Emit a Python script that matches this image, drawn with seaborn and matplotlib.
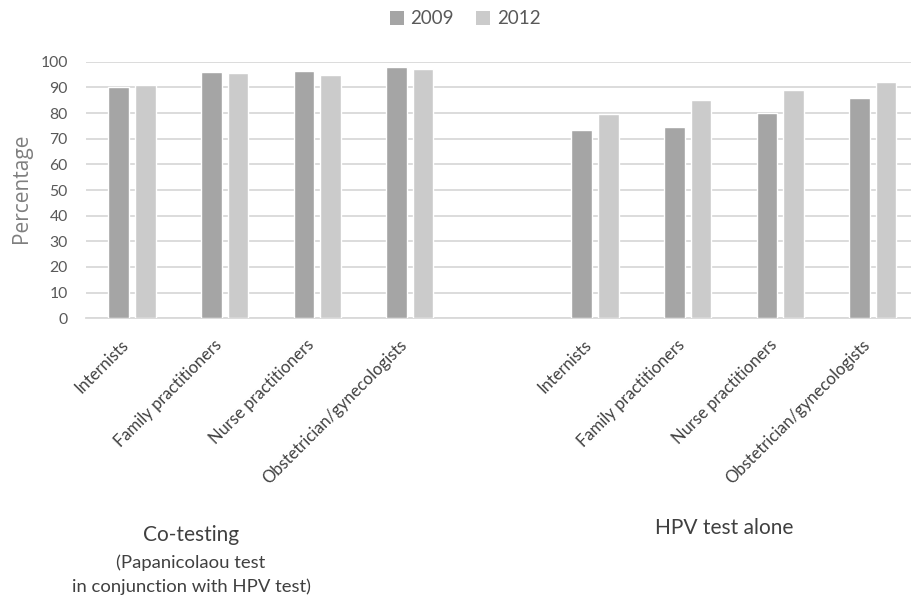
import matplotlib
matplotlib.use("Agg")
import matplotlib.pyplot as plt
from matplotlib.patches import Patch
import seaborn as sns
import pandas as pd

# Provider groups and survey years
providers = ["Internists", "Family practitioners", "Nurse practitioners",
             "Obstetrician/gynecologists"]
years = ["2009", "2012"]

# Percentage recommending co-testing (Pap + HPV)
cotest_2009 = [90, 96, 96.5, 98]
cotest_2012 = [91, 95.5, 95, 97]

# Percentage recommending HPV test alone
hpv_2009 = [73.5, 74.5, 80, 86]
hpv_2012 = [79.5, 85, 89, 92]

y_ticks = list(range(0, 101, 10))

# Build long-form table; one empty slot separates the two test groups
rows = []
for i, p in enumerate(providers):
    rows.append(("co_" + str(i), "2009", cotest_2009[i]))
    rows.append(("co_" + str(i), "2012", cotest_2012[i]))
    rows.append(("hpv_" + str(i), "2009", hpv_2009[i]))
    rows.append(("hpv_" + str(i), "2012", hpv_2012[i]))
df = pd.DataFrame(rows, columns=["slot", "year", "pct"])

order = ["co_%d" % i for i in range(4)] + ["gap"] + ["hpv_%d" % i for i in range(4)]
tick_labels = providers + [""] + providers

sns.set_theme(style="white")
plt.rcParams["font.family"] = ["Lato", "DejaVu Sans"]

colors = {"2009": "#a5a5a5", "2012": "#cbcbcb"}

fig = plt.figure(figsize=(9.11, 6.01), dpi=100)
ax_left, ax_width = 0.0941, 0.9148
ax = fig.add_axes([ax_left, 0.4704, ax_width, 0.4269])

sns.barplot(data=df, x="slot", y="pct", hue="year", order=order,
            hue_order=years, palette=colors, width=0.572, gap=0.223,
            saturation=1, legend=False, ax=ax, zorder=3)

ax.set_xlim(-0.5, 8.5)
ax.set_ylim(0, 100)
ax.set_yticks(y_ticks)
ax.set_yticklabels([str(t) for t in y_ticks], fontsize=11.3, color="#595959")
ax.tick_params(axis="y", length=0, pad=13)

ax.set_xticks(range(len(order)))
ax.set_xticklabels(tick_labels, rotation=45, ha="right", fontsize=12,
                   color="#404040")
ax.tick_params(axis="x", length=0, pad=13)

ax.grid(axis="y", color="#d9d9d9", linewidth=1.3, zorder=0)
ax.set_axisbelow(True)
for side in ["top", "right", "left"]:
    ax.spines[side].set_visible(False)
ax.spines["bottom"].set_color("#d9d9d9")
ax.spines["bottom"].set_linewidth(1.3)

ax.set_xlabel("")
ax.set_ylabel("Percentage", fontsize=15, color="#7f7f7f",
              family=["Open Sans", "DejaVu Sans"])
ax.yaxis.set_label_coords(-(85.7 - 32) / 833.4, 0.505)

# Legend centred above the plot
handles = [Patch(facecolor=colors[y], edgecolor="none", label=y) for y in years]
fig.legend(handles=handles, loc="center", bbox_to_anchor=(465 / 911, 1 - 19 / 601),
           ncol=2, frameon=False, fontsize=13.5, labelcolor="#595959",
           handlelength=0.75, handleheight=0.75, handletextpad=0.35,
           columnspacing=1.2)

# Group captions below the category labels
fig.text(191 / 911, 1 - 535 / 601, "Co-testing", ha="center", va="center",
         fontsize=15, color="#404040")
fig.text(191 / 911, 1 - 563 / 601, "(Papanicolaou test", ha="center",
         va="center", fontsize=13.3, color="#404040")
fig.text(191 / 911, 1 - 587 / 601, "in conjunction with HPV test)", ha="center",
         va="center", fontsize=13.3, color="#404040")
fig.text(724.5 / 911, 1 - 528 / 601, "HPV test alone", ha="center", va="center",
         fontsize=15, color="#404040")

fig.savefig("out.png", dpi=100)
